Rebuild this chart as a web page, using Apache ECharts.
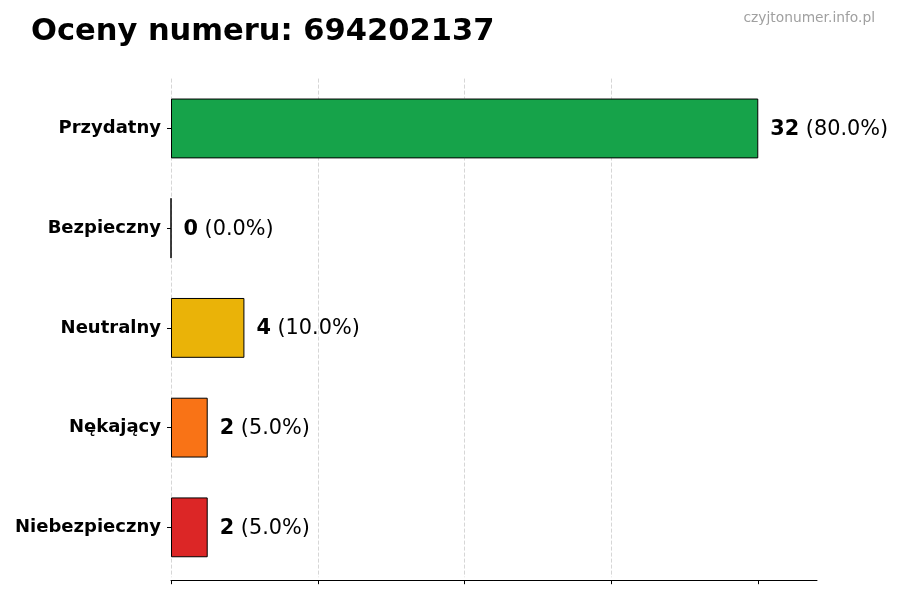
<!DOCTYPE html>
<html><head><meta charset="utf-8">
<script src="https://cdn.jsdelivr.net/npm/echarts@6/dist/echarts.min.js"></script>
<style>html,body{margin:0;padding:0;background:#fff}#c{width:900px;height:600px}</style>
</head><body><div id="c"></div>
<script>
const categories = ['Przydatny', 'Bezpieczny', 'Neutralny', 'Nękający', 'Niebezpieczny'];
const counts = [32, 0, 4, 2, 2];
const colors = ['#16a34a', '#6b7280', '#eab308', '#f97316', '#dc2626'];
const xTicks = [0, 8, 16, 24, 32];
const titleText = 'Oceny numeru: 694202137';
const watermark = 'czyjtonumer.info.pl';

const total = counts.reduce((a, b) => a + b, 0);
const FONT = 'DejaVu Sans';
const chart = echarts.init(document.getElementById('c'), null, {renderer: 'canvas'});
chart.setOption({
  animation: false,
  backgroundColor: '#fff',
  title: [
    {text: titleText, left: 26, top: 12, textStyle: {fontFamily: FONT, fontSize: 30.5, fontWeight: 'bold', color: '#000'}},
    {text: watermark, right: 20, top: 6, textStyle: {fontFamily: FONT, fontSize: 13.8, fontWeight: 'normal', color: '#a0a0a0'}}
  ],
  grid: {left: 171, right: 83, top: 78.6, bottom: 22.8},
  xAxis: {
    type: 'value', min: 0, max: Math.max(...counts) * 1.1, interval: 8,
    offset: 3,
    axisLine: {show: true, lineStyle: {color: '#000', width: 1}},
    axisTick: {show: true, length: 4, lineStyle: {color: '#000'}, customValues: xTicks},
    axisLabel: {show: false},
    splitLine: {show: true, showMaxLine: false, lineStyle: {color: '#cccccc', type: [4, 2], width: 0.8}}
  },
  yAxis: {
    type: 'category', inverse: true, data: categories,
    axisLine: {show: false},
    axisTick: {show: true, alignWithLabel: true, length: 4, lineStyle: {color: '#000'}},
    axisLabel: {margin: 10, fontFamily: FONT, fontSize: 18, fontWeight: 'bold', color: '#000'}
  },
  series: [{
    type: 'bar', barCategoryGap: '40%',
    data: counts.map((v, i) => ({value: v, itemStyle: {color: colors[i]}})),
    itemStyle: {borderColor: '#000', borderWidth: 1},
    label: {
      show: true, position: 'right', distance: 12, offset: [0, 1],
      formatter: p => '{b|' + p.value + '}{n| (' + (p.value / total * 100).toFixed(1) + '%)}',
      rich: {
        b: {fontFamily: FONT, fontSize: 20.8, fontWeight: 'bold', color: '#000'},
        n: {fontFamily: FONT, fontSize: 20.8, color: '#000'}
      }
    }
  }]
});
</script></body></html>
